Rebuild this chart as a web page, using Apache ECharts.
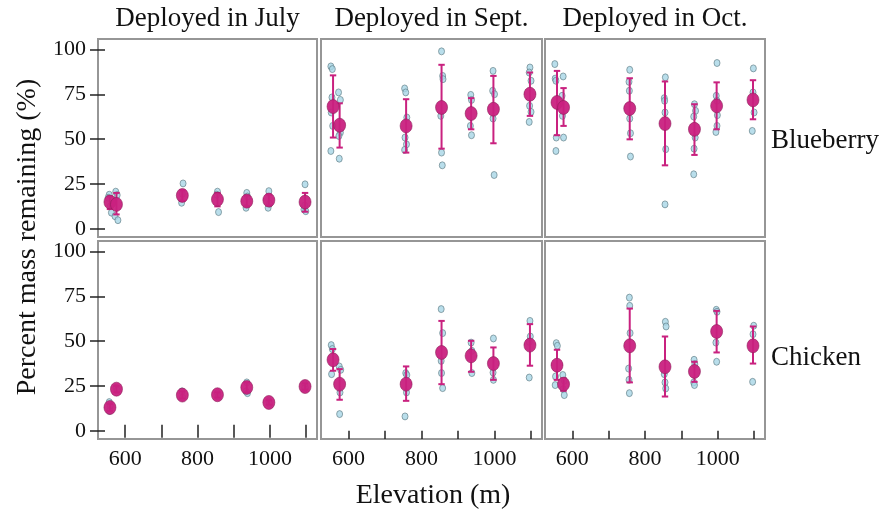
<!DOCTYPE html>
<html>
<head>
<meta charset="utf-8">
<script src="https://cdn.jsdelivr.net/npm/echarts@6/dist/echarts.min.js"></script>
<style>
  html, body { margin: 0; padding: 0; background: #fff; }
  #chart { width: 883px; height: 511px; }
</style>
</head>
<body>
<div id="chart"></div>
<script>
// elevations of the sites (m)
const sites = [558, 576, 758, 855, 936, 997, 1097];
const xTicks = [600, 700, 800, 900, 1000, 1100];
const xLabels = [600, 800, 1000];
const yTicks = [0, 25, 50, 75, 100];

const columnTitles = ["Deployed in July", "Deployed in Sept.", "Deployed in Oct."];
const rowTitles = ["Blueberry", "Chicken"];

// Blueberry, July
const blueJulyMean = [14.9, 13.6, 18.6, 16.4, 15.4, 16.0, 14.9];
const blueJulyLow = [11, 8, 15.5, 12.5, 12.5, 13, 9.5];
const blueJulyHigh = [18, 20, 21.5, 20, 18.5, 19, 20];
const blueJulyRaw = [[556, 19], [553, 17.3], [559, 12.6], [562, 9], [574, 20.7], [578, 18.8], [572, 7], [580, 4.8],
  [760, 25.3], [756, 14.5], [758, 19.5], [855, 20.7], [858, 9.3], [853, 19], [936, 20], [934, 11.7], [938, 18],
  [997, 21], [995, 11.7], [999, 14], [1097, 24.8], [1094, 10.8], [1099, 9.8], [1096, 13]];

// Blueberry, Sept.
const blueSeptMean = [68.2, 57.8, 57.4, 67.7, 64.3, 66.7, 75.1];
const blueSeptLow = [50.9, 45.3, 42.5, 44.7, 55.5, 47.7, 63];
const blueSeptHigh = [85.6, 70, 72.3, 91.5, 72.9, 85.3, 87.2];
const blueSeptRaw = [[552, 90.6], [556, 89.1], [555, 73.3], [553, 64.9], [557, 57.4], [552, 43.4],
  [573, 76.1], [578, 71.9], [578, 53.7], [574, 51.8], [575, 39.1],
  [754, 78.3], [757, 76.1], [760, 62.1], [755, 50.9], [759, 47.1], [754, 44],
  [855, 99], [858, 85.3], [859, 83.5], [853, 63], [855, 42.5], [857, 35.4],
  [935, 74.7], [937, 71.9], [934, 57.4], [937, 52.2],
  [996, 88.1], [995, 77], [1000, 75.1], [996, 61.5], [999, 30],
  [1097, 90], [1095, 87.2], [1100, 82.6], [1096, 68.6], [1100, 65.2], [1095, 59.6]];

// Blueberry, Oct.
const blueOctMean = [70.5, 67.7, 67.1, 58.7, 55.5, 68.6, 71.9];
const blueOctLow = [52.2, 57.4, 49.9, 35.4, 41.2, 55.5, 61.1];
const blueOctHigh = [88.1, 78.5, 84, 82.2, 69.5, 81.7, 82.9];
const blueOctRaw = [[552, 91.9], [553, 83.8], [555, 82.6], [556, 50.9], [555, 43.4],
  [575, 85], [572, 74.2], [573, 63], [576, 50.9],
  [758, 88.7], [756, 82], [757, 77], [758, 61.5], [760, 53.3], [760, 40.3],
  [856, 84.5], [853, 72.9], [854, 71.4], [855, 64.9], [857, 44.4], [855, 13.6],
  [936, 69.5], [939, 65.8], [934, 62.6], [938, 50.9], [935, 44.7], [934, 30.4],
  [998, 92.5], [996, 74.2], [998, 71.4], [999, 63.4], [998, 57.4], [995, 54],
  [1098, 89.5], [1097, 76.1], [1100, 64.9], [1095, 54.6]];

// Chicken, July
const chickJulyMean = [13, 23.2, 19.9, 20.1, 24.2, 15.8, 24.7];
const chickJulyLow = [11, 21.5, 18, 18.5, 21.5, 14.5, 23];
const chickJulyHigh = [15, 25, 22, 21.5, 27, 17, 26.5];
const chickJulyRaw = [[556, 16], [559, 14], [557, 11], [575, 24], [578, 22.5], [757, 22], [759, 18.5],
  [855, 21], [857, 19], [936, 27], [934, 22], [938, 21], [997, 16.5], [999, 15],
  [1096, 26], [1098, 24], [1095, 23.5]];

// Chicken, Sept.
const chickSeptMean = [39.6, 26, 26, 43.7, 41.8, 37.5, 47.8];
const chickSeptLow = [33.5, 17.3, 16.7, 26, 32.9, 28.4, 36.3];
const chickSeptHigh = [45.6, 34.4, 35.9, 61.3, 50.2, 46.5, 59.5];
const chickSeptRaw = [[553, 47.8], [556, 45.6], [554, 31.6],
  [575, 35.9], [579, 34], [577, 21.4], [576, 9.3],
  [757, 32.2], [760, 31.1], [759, 21.4], [755, 8],
  [854, 67.9], [858, 54.5], [854, 39], [855, 32.2], [858, 23.8],
  [936, 49.2], [938, 44.6], [938, 32.2],
  [997, 51.5], [996, 32.5], [997, 28.4],
  [1097, 61.3], [1098, 52.6], [1095, 49.6], [1095, 29.7]];

// Chicken, Oct.
const chickOctMean = [36.6, 26, 47.4, 35.7, 33.1, 55.4, 47.4];
const chickOctLow = [28.4, 22.3, 27, 19.1, 27.3, 43.7, 37.5];
const chickOctHigh = [45.2, 29.2, 68.2, 52.6, 38.5, 66.9, 58.2];
const chickOctRaw = [[556, 48.9], [559, 47.4], [554, 30.3], [553, 25.5],
  [574, 31.1], [578, 27.9], [575, 23.2], [578, 19.9],
  [757, 74.3], [758, 69.7], [759, 54.5], [755, 34.7], [756, 28.4], [757, 21],
  [856, 60.8], [858, 58.2], [853, 31.6], [855, 27], [857, 23.6],
  [935, 39.6], [937, 37.2], [934, 27], [936, 25.5],
  [996, 67.5], [998, 66.4], [995, 49.2], [997, 38.5],
  [1099, 58.6], [1097, 53.9], [1096, 27.3]];

const panels = [
  { mean: blueJulyMean, low: blueJulyLow, high: blueJulyHigh, raw: blueJulyRaw },
  { mean: blueSeptMean, low: blueSeptLow, high: blueSeptHigh, raw: blueSeptRaw },
  { mean: blueOctMean, low: blueOctLow, high: blueOctHigh, raw: blueOctRaw },
  { mean: chickJulyMean, low: chickJulyLow, high: chickJulyHigh, raw: chickJulyRaw },
  { mean: chickSeptMean, low: chickSeptLow, high: chickSeptHigh, raw: chickSeptRaw },
  { mean: chickOctMean, low: chickOctLow, high: chickOctHigh, raw: chickOctRaw },
];

const serif = "'Liberation Serif', 'DejaVu Serif', serif";
const pink = "#c9217f";
const cols = [[98, 317], [321, 542], [545, 765]];
const rows = [[39, 237], [241, 439]];

let myChart = echarts.init(document.getElementById("chart"));

let grids = [];
let xAxes = [];
let yAxes = [];
let series = [];
let extraX = [];
let extraY = [];

panels.forEach((p, i) => {
  let r = Math.floor(i / 3);
  let c = i % 3;
  grids.push({
    left: cols[c][0],
    top: rows[r][0],
    width: cols[c][1] - cols[c][0],
    height: rows[r][1] - rows[r][0],
    show: true,
    borderColor: "#969696",
    borderWidth: 2,
    backgroundColor: "#fff",
  });
  let xBase = {
    gridIndex: i,
    type: "value",
    position: "bottom",
    min: 525,
    max: 1130,
    axisLine: { show: false },
    splitLine: { show: false },
  };
  xAxes.push(Object.assign({}, xBase, {
    axisTick: { show: r === 1, customValues: xTicks, length: 7, lineStyle: { color: "#222", width: 1.5 } },
    axisLabel: {
      show: r === 1,
      customValues: xLabels,
      formatter: (v) => String(v),
      fontFamily: serif,
      fontSize: 22,
      color: "#111",
      margin: 9,
    },
  }));
  let yBase = {
    gridIndex: i,
    type: "value",
    position: "left",
    min: -4.6,
    max: 105.9,
    axisLine: { show: false },
    splitLine: { show: false },
  };
  yAxes.push(Object.assign({}, yBase, {
    axisTick: { show: c === 0, customValues: yTicks, length: 8, lineStyle: { color: "#222", width: 1.5 } },
    axisLabel: { show: c === 0, customValues: yTicks, fontFamily: serif, fontSize: 22, color: "#111", margin: 12 },
  }));
  // inside half of the crossing ticks
  if (r === 1) {
    extraX.push(Object.assign({}, xBase, {
      axisTick: { show: true, inside: true, customValues: xTicks, length: 6, lineStyle: { color: "#222", width: 1.5 } },
      axisLabel: { show: false },
    }));
  }
  if (c === 0) {
    extraY.push(Object.assign({}, yBase, {
      axisTick: { show: true, inside: true, customValues: yTicks, length: 7, lineStyle: { color: "#222", width: 1.5 } },
      axisLabel: { show: false },
    }));
  }

  series.push({
    type: "scatter",
    xAxisIndex: i,
    yAxisIndex: i,
    symbolSize: [6, 7],
    itemStyle: { color: "#a7d6e6", borderColor: "#5d7880", borderWidth: 0.8 },
    data: p.raw,
    z: 2,
  });
  series.push({
    type: "custom",
    xAxisIndex: i,
    yAxisIndex: i,
    encode: { x: 0, y: [1, 2] },
    data: sites.map((s, k) => [s, p.low[k], p.high[k]]),
    renderItem: (params, api) => {
      let lo = api.coord([api.value(0), api.value(1)]);
      let hi = api.coord([api.value(0), api.value(2)]);
      let w = 3.2;
      let st = { stroke: pink, lineWidth: 2 };
      return {
        type: "group",
        children: [
          { type: "line", shape: { x1: lo[0], y1: lo[1], x2: hi[0], y2: hi[1] }, style: st },
          { type: "line", shape: { x1: lo[0] - w, y1: lo[1], x2: lo[0] + w, y2: lo[1] }, style: st },
          { type: "line", shape: { x1: hi[0] - w, y1: hi[1], x2: hi[0] + w, y2: hi[1] }, style: st },
        ],
      };
    },
    z: 3,
  });
  series.push({
    type: "scatter",
    xAxisIndex: i,
    yAxisIndex: i,
    symbolSize: [12, 14],
    itemStyle: { color: pink, borderColor: "#8a1d57", borderWidth: 0.6, opacity: 0.95 },
    data: sites.map((s, k) => [s, p.mean[k]]),
    z: 4,
  });
});

let texts = [];
columnTitles.forEach((t, c) => {
  texts.push({
    type: "text",
    x: (cols[c][0] + cols[c][1]) / 2,
    y: 19,
    style: { text: t, textAlign: "center", textVerticalAlign: "middle", font: "27px " + serif, fill: "#111" },
  });
});
texts.push({
  type: "text", x: 771, y: 141,
  style: { text: rowTitles[0], textAlign: "left", textVerticalAlign: "middle", font: "27px " + serif, fill: "#111" },
});
texts.push({
  type: "text", x: 771, y: 358,
  style: { text: rowTitles[1], textAlign: "left", textVerticalAlign: "middle", font: "27px " + serif, fill: "#111" },
});
texts.push({
  type: "text", x: 28, y: 237, rotation: Math.PI / 2,
  style: { text: "Percent mass remaining (%)", textAlign: "center", textVerticalAlign: "middle", font: "28px " + serif, fill: "#111" },
});
texts.push({
  type: "text", x: 433, y: 496,
  style: { text: "Elevation (m)", textAlign: "center", textVerticalAlign: "middle", font: "28px " + serif, fill: "#111" },
});

let option = {
  animation: false,
  backgroundColor: "#fff",
  grid: grids,
  xAxis: xAxes.concat(extraX),
  yAxis: yAxes.concat(extraY),
  series: series,
  graphic: texts,
};
myChart.setOption(option);
</script>
</body>
</html>
